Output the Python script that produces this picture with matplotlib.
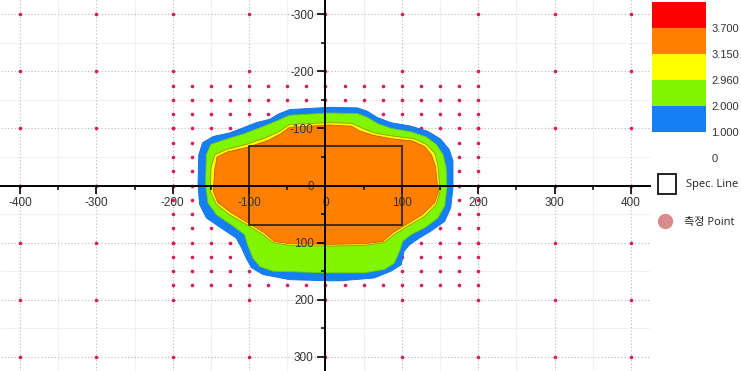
import matplotlib
matplotlib.use("Agg")
import matplotlib.pyplot as plt
from matplotlib.patches import Rectangle
from matplotlib.lines import Line2D

plt.rcParams['font.family'] = ['Liberation Sans', 'Noto Sans CJK KR', 'DejaVu Sans']

# measurement points (sparse outer grid + dense inner grid)
sparse_x = [-400, -300, -200, -100, 0, 100, 200, 300, 400]
sparse_y = [-300, -200, -100, 0, 100, 200, 300]
dense_x = [-200, -175, -150, -125, -100, -75, -50, -25, 0, 25, 50, 75, 100,
           125, 150, 175, 200]
dense_y = [-175, -150, -125, -100, -75, -50, -25, 0, 25, 50, 75, 100, 125,
           150, 175]

# contour band boundaries (x, y)
level_1000 = [(5, -137), (-47, -133), (-62, -125), (-73, -116), (-91, -110), (-108, -101),
              (-126, -92), (-147, -86), (-161, -75), (-166, -54), (-167, -2), (-165, 33),
              (-156, 57), (-134, 77), (-117, 92), (-110, 109), (-104, 127), (-97, 144),
              (-82, 156), (-47, 165), (5, 167), (20, 167), (64, 162), (86, 150), (99, 139),
              (103, 115), (110, 104), (123, 92), (138, 80), (156, 63), (164, 39), (167, 4),
              (167, -43), (162, -63), (151, -81), (134, -95), (112, -104), (86, -110),
              (68, -119), (55, -130), (42, -136)]
level_2000 = [(5, -127), (-47, -123), (-64, -113), (-86, -101), (-108, -90), (-130, -81),
              (-150, -72), (-156, -54), (-157, -2), (-154, 30), (-143, 51), (-121, 71),
              (-106, 86), (-102, 104), (-95, 127), (-86, 142), (-69, 150), (5, 153),
              (51, 153), (77, 147), (90, 136), (97, 115), (101, 98), (112, 86), (130, 74),
              (147, 57), (156, 36), (159, 4), (158, -31), (154, -54), (145, -72), (132, -85),
              (112, -94), (86, -100), (69, -108), (55, -119), (42, -126)]
level_2960 = [(5, -110), (-47, -107), (-60, -95), (-78, -84), (-104, -72), (-130, -63),
              (-145, -54), (-150, -31), (-151, 10), (-143, 33), (-126, 51), (-104, 68),
              (-82, 86), (-69, 100), (-47, 105), (5, 106), (51, 105), (77, 100), (90, 86),
              (108, 71), (130, 54), (145, 33), (150, 10), (149, -8), (147, -37), (143, -57),
              (132, -72), (116, -82), (86, -87), (64, -92), (47, -101), (34, -109)]
level_3150 = [(5, -106), (-47, -102), (-58, -91), (-75, -79), (-102, -67), (-128, -59),
              (-142, -50), (-145, -28), (-147, 10), (-141, 30), (-123, 48), (-102, 65),
              (-80, 83), (-67, 98), (-47, 102), (5, 103), (51, 102), (75, 98), (88, 83),
              (106, 68), (127, 51), (143, 30), (148, 10), (146, -8), (144, -34), (139, -53),
              (130, -68), (114, -78), (86, -82), (62, -88), (44, -96), (34, -104)]

band_colors = ['#1580f5', '#80f500', '#ffff00', '#ff8000', '#ff0000']
cb_labels = ['0', '1.000', '2.000', '2.960', '3.150', '3.700']

# spec line rectangle
spec_x = [-100, 100]
spec_y = [-70, 70]

x_major = [-400, -300, -200, -100, 0, 100, 200, 300, 400]
y_major = [-300, -200, -100, 0, 100, 200, 300]
x_minor = [-350, -250, -150, -50, 50, 150, 250, 350]
y_minor = [-250, -150, -50, 50, 150, 250]

fig = plt.figure(figsize=(7.41, 3.71), dpi=100)
ax = fig.add_axes([1 / 741, 0, 649 / 741, 1])
ax.set_xlim(-425, 425)
ax.set_ylim(325, -325)

ax.set_xticks(x_major)
ax.set_xticklabels([str(v) for v in x_major])
ax.set_yticks(y_major)
ax.set_yticklabels([str(v) for v in y_major])
ax.set_xticks(x_minor, minor=True)
ax.set_yticks(y_minor, minor=True)

# grid drawn by hand so it stays under the filled bands
for v in x_minor:
    ax.axvline(v, color='#f0f0f0', lw=0.8, zorder=0.2)
for v in y_minor:
    ax.axhline(v, color='#f0f0f0', lw=0.8, zorder=0.2)
for v in x_major:
    ax.axvline(v, color='#b8b8b8', lw=0.8, ls=(0, (1, 2)), zorder=0.3)
for v in y_major:
    ax.axhline(v, color='#b8b8b8', lw=0.8, ls=(0, (1, 2)), zorder=0.3)

for s in ['top', 'right']:
    ax.spines[s].set_visible(False)
ax.spines['left'].set_position(('data', 0))
ax.spines['bottom'].set_position(('data', 0))
ax.spines['left'].set_linewidth(1.4)
ax.spines['bottom'].set_linewidth(1.4)
ax.tick_params(which='major', direction='out', length=5.5, width=1.2, labelsize=8.5,
               labelcolor='#333333', pad=3)
ax.tick_params(which='minor', direction='out', length=3, width=1.1)

# points
for yv in sparse_y:
    ax.plot(sparse_x, [yv] * len(sparse_x), 'o', color='#d81b60', ms=2.6, mew=0, zorder=0.8)
for yv in dense_y:
    ax.plot(dense_x, [yv] * len(dense_x), 'o', color='#d81b60', ms=2.6, mew=0, zorder=0.8)

# filled bands
levels = [level_1000, level_2000, level_2960, level_3150]
edges = ['#1070e0', '#70d000', '#a09000', '#c06000']
for pts, col, ec in zip(levels, band_colors[:4], edges):
    xs = [p[0] for p in pts]
    ys = [p[1] for p in pts]
    ax.fill(xs, ys, facecolor=col, edgecolor=ec, lw=0.6, joinstyle='round', zorder=1)

ax.add_patch(Rectangle((spec_x[0], spec_y[0]), spec_x[1] - spec_x[0], spec_y[1] - spec_y[0],
                       fill=False, ec='#222222', lw=1.2, zorder=2))

# colour scale
cax = fig.add_axes([652 / 741, (371 - 158) / 371, 54 / 741, 156 / 371])
for i, col in enumerate(band_colors):
    cax.bar(0, 1, bottom=i + 1, width=1, color=col)
cax.set_xlim(-0.5, 0.5)
cax.set_ylim(0, 6)
cax.set_xticks([])
cax.set_yticks(range(6))
cax.set_yticklabels(cb_labels)
cax.yaxis.tick_right()
cax.tick_params(length=0, labelsize=8, labelcolor='#333333', pad=4)
for s in cax.spines.values():
    s.set_visible(False)

# legend
fig.patches.append(Rectangle((658 / 741, 1 - 194 / 371), 18 / 741, 20 / 371, fill=False,
                             ec='#111111', lw=1.3, transform=fig.transFigure))
fig.lines.append(Line2D([665 / 741], [1 - 221 / 371], marker='o', ms=11, color='#d98a8c',
                        mew=0, transform=fig.transFigure))
fig.text(686 / 741, 1 - 184 / 371, 'Spec. Line', fontsize=8, va='center', color='#222222',
         family=['Open Sans', 'Noto Sans CJK KR'])
fig.text(684 / 741, 1 - 222 / 371, '측정 Point', fontsize=8, va='center', color='#222222',
         family=['Open Sans', 'Noto Sans CJK KR'])

fig.savefig('out.png', dpi=100)
